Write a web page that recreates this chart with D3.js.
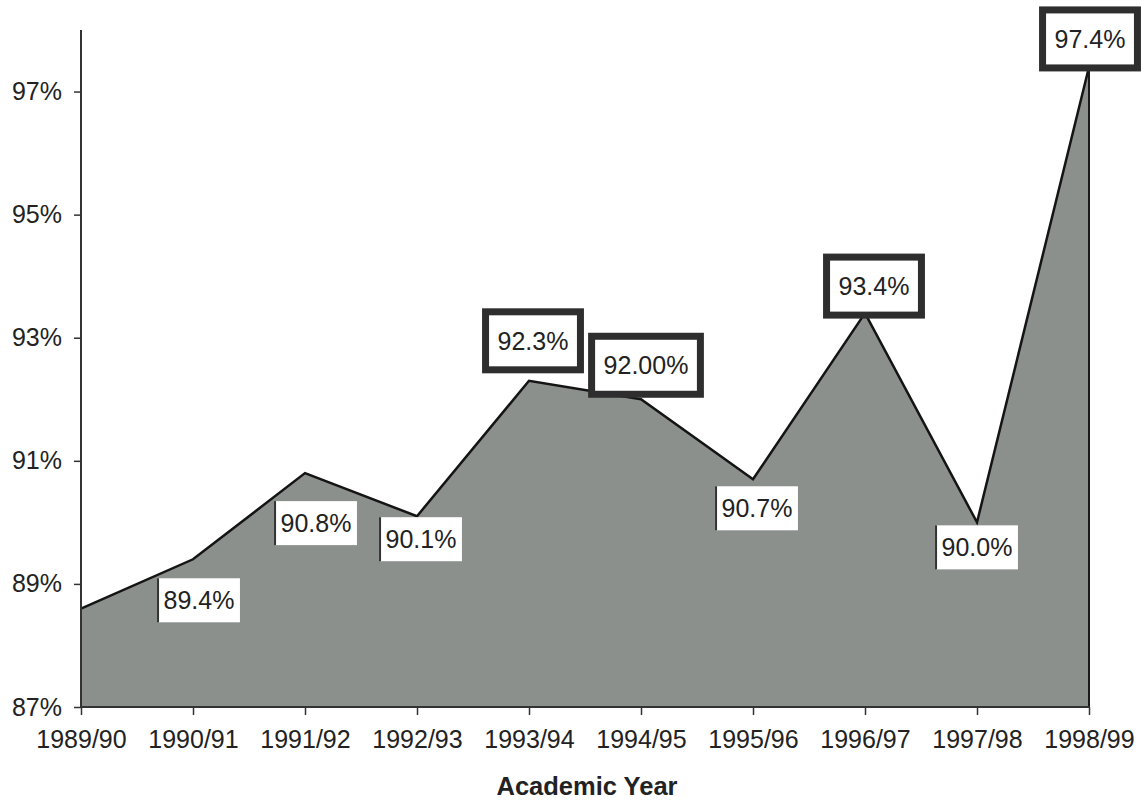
<!DOCTYPE html>
<html>
<head>
<meta charset="utf-8">
<script src="https://cdn.jsdelivr.net/npm/d3@7/dist/d3.min.js"></script>
<style>
  html, body { margin: 0; padding: 0; background: #fff; }
  svg { display: block; font-family: "Liberation Sans", Arial, sans-serif; }
</style>
</head>
<body>
<svg id="chart" width="1141" height="802"></svg>
<script>
// Academic years along the x axis
const years = ["1989/90", "1990/91", "1991/92", "1992/93", "1993/94",
               "1994/95", "1995/96", "1996/97", "1997/98", "1998/99"];
// Rate per year (percent)
const rates = [88.6, 89.4, 90.8, 90.1, 92.3, 92.0, 90.7, 93.4, 90.0, 97.4];
// Text shown in each data label (null = no label)
const labelText = [null, "89.4%", "90.8%", "90.1%", "92.3%", "92.00%",
                   "90.7%", "93.4%", "90.0%", "97.4%"];
// Labels drawn with a heavy frame
const emphasised = [false, false, false, false, true, true, false, true, false, true];
// Y axis ticks
const yTicks = [87, 89, 91, 93, 95, 97];

// Label placement nudges relative to each point (layout only)
const labelNudge = [
  [0, 0], [6, 41], [11, 50], [4, 23], [4, -40],
  [5, -34], [4, 29], [9, -27], [0, 25], [1, -28]
];

const FONT = 25;
const svg = d3.select("#chart");
const plotLeft = 81, plotRight = 1089, plotTop = 30, plotBottom = 707;

const x = d3.scalePoint().domain(years).range([plotLeft, plotRight]);
const y = d3.scaleLinear().domain([87, 98]).range([plotBottom, plotTop]);

const data = years.map((yr, i) => ({ yr, v: rates[i], i }));

// Filled area
const area = d3.area()
  .x(d => x(d.yr))
  .y0(y(87))
  .y1(d => y(d.v));
svg.append("path")
  .datum(data)
  .attr("d", area)
  .attr("fill", "#8b908d");

// Outline of the area top and the closing right edge
const line = d3.line().x(d => x(d.yr)).y(d => y(d.v));
svg.append("path")
  .datum(data)
  .attr("d", line)
  .attr("fill", "none")
  .attr("stroke", "#141414")
  .attr("stroke-width", 2.5)
  .attr("stroke-linejoin", "miter");
const last = data[data.length - 1];
svg.append("line")
  .attr("x1", x(last.yr)).attr("x2", x(last.yr))
  .attr("y1", y(last.v)).attr("y2", y(87))
  .attr("stroke", "#1a1a1a").attr("stroke-width", 2);

// Y axis
const yAxis = d3.axisLeft(y)
  .tickValues(yTicks)
  .tickFormat(d => d + "%")
  .tickSize(7)
  .tickPadding(12);
const gy = svg.append("g").attr("transform", `translate(${plotLeft},0)`).call(yAxis);
gy.select(".domain").attr("d", `M0,${plotTop}V${plotBottom}`).attr("stroke", "#333").attr("stroke-width", 2);
gy.selectAll(".tick line").attr("stroke", "#333").attr("stroke-width", 1.5);
gy.selectAll(".tick text").attr("font-size", FONT).attr("fill", "#222")
  .attr("font-family", "Liberation Sans, Arial, sans-serif");

// X axis
const xAxis = d3.axisBottom(x).tickSize(8).tickPadding(15);
const gx = svg.append("g").attr("transform", `translate(0,${plotBottom})`).call(xAxis);
gx.select(".domain").attr("d", `M${plotLeft},0H${plotRight}`).attr("stroke", "#333").attr("stroke-width", 2);
gx.selectAll(".tick line").attr("stroke", "#333").attr("stroke-width", 1.5);
gx.selectAll(".tick text").attr("font-size", FONT).attr("fill", "#222")
  .attr("font-family", "Liberation Sans, Arial, sans-serif");

// Axis title
svg.append("text")
  .attr("x", (plotLeft + plotRight) / 2 + 2)
  .attr("y", 795)
  .attr("text-anchor", "middle")
  .attr("font-size", 25.5)
  .attr("font-weight", "bold")
  .attr("fill", "#222")
  .text("Academic Year");

// Data labels
const labels = svg.append("g");
data.forEach((d, i) => {
  if (!labelText[i]) return;
  const cx = x(d.yr) + labelNudge[i][0];
  const cy = y(d.v) + labelNudge[i][1];
  const g = labels.append("g").attr("transform", `translate(${cx},${cy})`);
  const t = g.append("text")
    .attr("text-anchor", "middle")
    .attr("dy", "0.36em")
    .attr("font-size", FONT)
    .attr("fill", "#222")
    .text(labelText[i]);
  const w = t.node().getComputedTextLength();
  if (emphasised[i]) {
    const bw = w + 24, bh = 58;
    g.insert("rect", "text")
      .attr("x", -bw / 2).attr("y", -bh / 2)
      .attr("width", bw).attr("height", bh)
      .attr("fill", "#fff")
      .attr("stroke", "#2e2e2e")
      .attr("stroke-width", 7);
  } else {
    const bw = w + 11, bh = 44;
    g.insert("rect", "text")
      .attr("x", -bw / 2).attr("y", -bh / 2)
      .attr("width", bw).attr("height", bh)
      .attr("fill", "#fff");
    g.insert("line", "text")
      .attr("x1", -bw / 2).attr("x2", -bw / 2)
      .attr("y1", -bh / 2).attr("y2", bh / 2)
      .attr("stroke", "#333").attr("stroke-width", 2);
  }
});
</script>
</body>
</html>
